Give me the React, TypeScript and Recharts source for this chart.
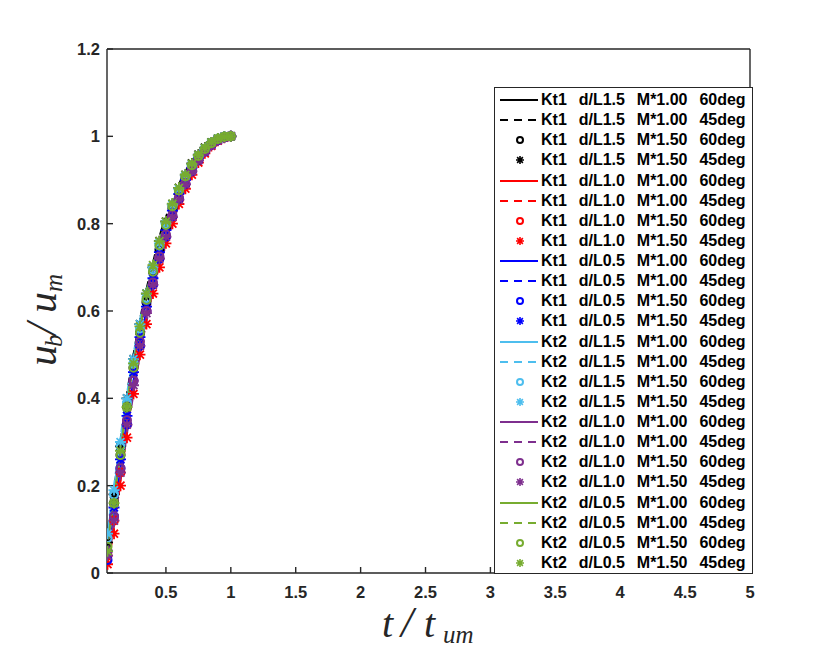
import React from 'react';
import { LineChart, Line, XAxis, YAxis, Label } from 'recharts';

// normalized time t / t_um, shared by all series
const T = [0.05, 0.1, 0.15, 0.2, 0.25, 0.3, 0.35, 0.4, 0.45, 0.5, 0.55, 0.6, 0.65, 0.7, 0.75, 0.8, 0.85, 0.9, 0.95, 1.0];

// u_b / u_m values, one array per case
const kt1_15_m100_60 = [0.06, 0.17, 0.28, 0.39, 0.48, 0.56, 0.63, 0.69, 0.75, 0.8, 0.84, 0.88, 0.91, 0.935, 0.955, 0.972, 0.985, 0.994, 0.999, 1.0];
const kt1_15_m100_45 = [0.08, 0.19, 0.3, 0.41, 0.5, 0.58, 0.65, 0.71, 0.77, 0.815, 0.855, 0.89, 0.92, 0.943, 0.962, 0.977, 0.989, 0.996, 0.999, 1.0];
const kt1_15_m150_60 = [0.05, 0.16, 0.27, 0.38, 0.47, 0.55, 0.62, 0.69, 0.74, 0.79, 0.835, 0.875, 0.905, 0.932, 0.953, 0.97, 0.984, 0.993, 0.998, 1.0];
const kt1_15_m150_45 = [0.07, 0.18, 0.29, 0.4, 0.49, 0.57, 0.64, 0.7, 0.76, 0.805, 0.845, 0.882, 0.912, 0.938, 0.958, 0.974, 0.986, 0.995, 0.999, 1.0];
const kt1_10_m100_60 = [0.03, 0.11, 0.22, 0.33, 0.43, 0.51, 0.59, 0.655, 0.715, 0.765, 0.81, 0.85, 0.885, 0.915, 0.942, 0.962, 0.978, 0.99, 0.997, 1.0];
const kt1_10_m100_45 = [0.02, 0.1, 0.21, 0.32, 0.42, 0.5, 0.58, 0.645, 0.705, 0.76, 0.805, 0.845, 0.88, 0.912, 0.94, 0.96, 0.977, 0.989, 0.997, 1.0];
const kt1_10_m150_60 = [0.04, 0.12, 0.23, 0.34, 0.44, 0.52, 0.6, 0.66, 0.72, 0.77, 0.815, 0.855, 0.89, 0.92, 0.945, 0.965, 0.98, 0.991, 0.998, 1.0];
const kt1_10_m150_45 = [0.02, 0.09, 0.2, 0.31, 0.41, 0.5, 0.57, 0.64, 0.7, 0.755, 0.8, 0.845, 0.88, 0.912, 0.94, 0.961, 0.978, 0.99, 0.997, 1.0];
const kt1_05_m100_60 = [0.04, 0.13, 0.24, 0.35, 0.44, 0.53, 0.6, 0.665, 0.725, 0.775, 0.82, 0.86, 0.893, 0.922, 0.947, 0.966, 0.981, 0.992, 0.998, 1.0];
const kt1_05_m100_45 = [0.03, 0.12, 0.23, 0.34, 0.43, 0.52, 0.595, 0.66, 0.72, 0.77, 0.815, 0.855, 0.89, 0.92, 0.945, 0.965, 0.98, 0.991, 0.998, 1.0];
const kt1_05_m150_60 = [0.03, 0.13, 0.24, 0.34, 0.44, 0.52, 0.6, 0.66, 0.72, 0.77, 0.817, 0.857, 0.891, 0.92, 0.946, 0.965, 0.98, 0.991, 0.998, 1.0];
const kt1_05_m150_45 = [0.05, 0.15, 0.26, 0.36, 0.46, 0.54, 0.61, 0.675, 0.735, 0.785, 0.83, 0.868, 0.9, 0.928, 0.95, 0.968, 0.982, 0.992, 0.998, 1.0];
const kt2_15_m100_60 = [0.09, 0.19, 0.3, 0.4, 0.49, 0.57, 0.64, 0.7, 0.755, 0.8, 0.842, 0.878, 0.91, 0.935, 0.955, 0.972, 0.985, 0.994, 0.999, 1.0];
const kt2_15_m100_45 = [0.1, 0.2, 0.31, 0.41, 0.5, 0.58, 0.645, 0.705, 0.76, 0.805, 0.846, 0.882, 0.913, 0.937, 0.957, 0.973, 0.986, 0.995, 0.999, 1.0];
const kt2_15_m150_60 = [0.08, 0.18, 0.29, 0.39, 0.48, 0.56, 0.63, 0.695, 0.75, 0.8, 0.84, 0.877, 0.908, 0.933, 0.954, 0.971, 0.984, 0.994, 0.999, 1.0];
const kt2_15_m150_45 = [0.09, 0.19, 0.3, 0.4, 0.49, 0.57, 0.64, 0.7, 0.755, 0.8, 0.843, 0.879, 0.91, 0.935, 0.956, 0.972, 0.985, 0.994, 0.999, 1.0];
const kt2_10_m100_60 = [0.04, 0.12, 0.22, 0.33, 0.42, 0.51, 0.585, 0.65, 0.71, 0.76, 0.805, 0.847, 0.882, 0.913, 0.94, 0.961, 0.978, 0.99, 0.997, 1.0];
const kt2_10_m100_45 = [0.03, 0.11, 0.21, 0.32, 0.41, 0.5, 0.575, 0.64, 0.7, 0.752, 0.8, 0.842, 0.878, 0.91, 0.938, 0.96, 0.977, 0.989, 0.997, 1.0];
const kt2_10_m150_60 = [0.05, 0.13, 0.24, 0.35, 0.44, 0.53, 0.6, 0.665, 0.725, 0.775, 0.82, 0.86, 0.893, 0.922, 0.947, 0.966, 0.981, 0.992, 0.998, 1.0];
const kt2_10_m150_45 = [0.04, 0.12, 0.23, 0.34, 0.43, 0.52, 0.595, 0.66, 0.72, 0.77, 0.815, 0.855, 0.89, 0.92, 0.945, 0.965, 0.98, 0.991, 0.998, 1.0];
const kt2_05_m100_60 = [0.06, 0.17, 0.28, 0.39, 0.48, 0.56, 0.635, 0.7, 0.755, 0.8, 0.842, 0.878, 0.91, 0.935, 0.955, 0.972, 0.985, 0.994, 0.999, 1.0];
const kt2_05_m100_45 = [0.07, 0.17, 0.28, 0.39, 0.48, 0.565, 0.64, 0.7, 0.758, 0.805, 0.845, 0.88, 0.911, 0.936, 0.956, 0.972, 0.985, 0.994, 0.999, 1.0];
const kt2_05_m150_60 = [0.06, 0.16, 0.27, 0.38, 0.47, 0.55, 0.625, 0.69, 0.75, 0.797, 0.84, 0.876, 0.908, 0.934, 0.955, 0.971, 0.984, 0.994, 0.999, 1.0];
const kt2_05_m150_45 = [0.05, 0.16, 0.28, 0.38, 0.48, 0.565, 0.64, 0.705, 0.76, 0.805, 0.846, 0.882, 0.912, 0.937, 0.957, 0.973, 0.986, 0.995, 0.999, 1.0];

const SERIES_VALUES = [
  kt1_15_m100_60, kt1_15_m100_45, kt1_15_m150_60, kt1_15_m150_45,
  kt1_10_m100_60, kt1_10_m100_45, kt1_10_m150_60, kt1_10_m150_45,
  kt1_05_m100_60, kt1_05_m100_45, kt1_05_m150_60, kt1_05_m150_45,
  kt2_15_m100_60, kt2_15_m100_45, kt2_15_m150_60, kt2_15_m150_45,
  kt2_10_m100_60, kt2_10_m100_45, kt2_10_m150_60, kt2_10_m150_45,
  kt2_05_m100_60, kt2_05_m100_45, kt2_05_m150_60, kt2_05_m150_45,
];

// legend parts: 6 groups x 4 variants
const GROUP_KT = ['Kt1', 'Kt1', 'Kt1', 'Kt2', 'Kt2', 'Kt2'];
const GROUP_DL = ['d/L1.5', 'd/L1.0', 'd/L0.5', 'd/L1.5', 'd/L1.0', 'd/L0.5'];
const GROUP_COLORS = ['#000000', '#FF0000', '#0000FF', '#4DBEEE', '#7E2F8E', '#77AC30'];
const VARIANT_M = ['M*1.00', 'M*1.00', 'M*1.50', 'M*1.50'];
const VARIANT_DEG = ['60deg', '45deg', '60deg', '45deg'];
const VARIANT_STYLE = ['solid', 'dashed', 'circle', 'star'];

const X_TICKS = [0.5, 1, 1.5, 2, 2.5, 3, 3.5, 4, 4.5, 5];
const Y_TICKS = [0, 0.2, 0.4, 0.6, 0.8, 1, 1.2];

const AXIS_COLOR = '#262626';
const TICK_STYLE = { fontSize: 16.5, fontWeight: 'bold', fill: AXIS_COLOR, fontFamily: 'Liberation Sans, Arial, sans-serif' };

type Series = { key: string; label: string; color: string; style: string };

const series: Series[] = SERIES_VALUES.map((_, i) => {
  const g = Math.floor(i / 4);
  const v = i % 4;
  return {
    key: `s${i}`,
    label: `${GROUP_KT[g]}  ${GROUP_DL[g]}  ${VARIANT_M[v]}  ${VARIANT_DEG[v]}`,
    color: GROUP_COLORS[g],
    style: VARIANT_STYLE[v],
  };
});

const data = T.map((t, j) => {
  const row: Record<string, number> = { t };
  SERIES_VALUES.forEach((vals, i) => {
    row[`s${i}`] = vals[j];
  });
  return row;
});

const starPath = (cx: number, cy: number, r: number) => {
  const d = r * 0.72;
  return `M${cx - r},${cy}H${cx + r}M${cx},${cy - r}V${cy + r}M${cx - d},${cy - d}L${cx + d},${cy + d}M${cx - d},${cy + d}L${cx + d},${cy - d}`;
};

const makeDot = (style: string, color: string) => (props: any) => {
  const { cx, cy, index } = props;
  if (cx == null || cy == null) return <g key={`d${index}`} />;
  if (style === 'circle') {
    return <circle key={`d${index}`} cx={cx} cy={cy} r={4} fill="none" stroke={color} strokeWidth={2} />;
  }
  return <path key={`d${index}`} d={starPath(cx, cy, 5.5)} stroke={color} strokeWidth={1.8} fill="none" />;
};

const XLabel = () => (
  <text fontFamily="Liberation Serif, Times New Roman, serif" fontStyle="italic" fill={AXIS_COLOR}>
    <tspan x={382} y={637} fontSize={40}>t</tspan>
    <tspan x={401} y={637} fontSize={44}>/</tspan>
    <tspan x={424} y={637} fontSize={40}>t</tspan>
    <tspan x={443} y={643} fontSize={25}>um</tspan>
  </text>
);

const YLabel = () => (
  <text
    transform="translate(56,366) rotate(-90)"
    fontFamily="Liberation Serif, Times New Roman, serif"
    fontStyle="italic"
    fill={AXIS_COLOR}
  >
    <tspan x={0} y={0} fontSize={42}>u</tspan>
    <tspan x={19} y={6} fontSize={25}>b</tspan>
    <tspan x={31} y={0} fontSize={44}>/</tspan>
    <tspan x={53} y={0} fontSize={42}>u</tspan>
    <tspan x={74} y={6} fontSize={25}>m</tspan>
  </text>
);

const LegendSample = ({ s }: { s: Series }) => (
  <svg width={44} height={20} style={{ display: 'block', flex: 'none' }}>
    {s.style === 'solid' && <line x1={5} x2={43} y1={10} y2={10} stroke={s.color} strokeWidth={2} />}
    {s.style === 'dashed' && (
      <line x1={5} x2={43} y1={10} y2={10} stroke={s.color} strokeWidth={2} strokeDasharray="8 6" />
    )}
    {s.style === 'circle' && <circle cx={25} cy={10} r={3} fill="none" stroke={s.color} strokeWidth={2} />}
    {s.style === 'star' && <path d={starPath(25, 10, 4)} stroke={s.color} strokeWidth={1.6} fill="none" />}
  </svg>
);

export default function App() {
  return (
    <div style={{ position: 'absolute', left: 0, top: 0, width: 830, height: 654, background: '#fff' }}>
      <LineChart width={830} height={654} data={data} margin={{ top: 48, right: 79, bottom: 51, left: 47 }}>
        <XAxis
          xAxisId="b"
          dataKey="t"
          type="number"
          domain={[0.046, 5]}
          ticks={X_TICKS}
          interval={0}
          allowDataOverflow
          height={30}
          tickSize={-6}
          tickMargin={19}
          tick={TICK_STYLE}
          stroke={AXIS_COLOR}
          strokeWidth={1.4}
        >
          <Label content={XLabel} />
        </XAxis>
        <XAxis
          xAxisId="top"
          orientation="top"
          type="number"
          dataKey="t"
          domain={[0.046, 5]}
          ticks={X_TICKS}
          interval={0}
          allowDataOverflow
          height={1}
          tickSize={-6}
          tick={false}
          stroke={AXIS_COLOR}
          strokeWidth={1.4}
        />
        <YAxis
          yAxisId="l"
          type="number"
          domain={[0, 1.2]}
          ticks={Y_TICKS}
          interval={0}
          allowDataOverflow
          width={60}
          tickSize={-6}
          tickMargin={13}
          tick={TICK_STYLE}
          stroke={AXIS_COLOR}
          strokeWidth={1.4}
        >
          <Label content={YLabel} />
        </YAxis>
        <YAxis
          yAxisId="r"
          orientation="right"
          type="number"
          domain={[0, 1.2]}
          ticks={Y_TICKS}
          interval={0}
          allowDataOverflow
          width={1}
          tickSize={-6}
          tick={false}
          stroke={AXIS_COLOR}
          strokeWidth={1.4}
        />
        {series.map((s) =>
          s.style === 'solid' || s.style === 'dashed' ? (
            <Line
              key={s.key}
              xAxisId="b"
              yAxisId="l"
              dataKey={s.key}
              type="monotone"
              stroke={s.color}
              strokeWidth={2}
              strokeDasharray={s.style === 'dashed' ? '8 6' : undefined}
              dot={false}
              activeDot={false}
              isAnimationActive={false}
            />
          ) : (
            <Line
              key={s.key}
              xAxisId="b"
              yAxisId="l"
              dataKey={s.key}
              type="monotone"
              stroke="none"
              dot={makeDot(s.style, s.color)}
              activeDot={false}
              isAnimationActive={false}
            />
          )
        )}
      </LineChart>
      <div
        style={{
          position: 'absolute',
          left: 494,
          top: 87,
          width: 259,
          height: 487,
          boxSizing: 'border-box',
          border: `1.5px solid ${AXIS_COLOR}`,
          background: '#fff',
          paddingTop: 2,
          fontFamily: 'Liberation Sans, Arial, sans-serif',
          fontWeight: 'bold',
          fontSize: 16,
          color: '#000',
        }}
      >
        {series.map((s) => (
          <div key={s.key} style={{ display: 'flex', alignItems: 'center', height: 20.13 }}>
            <LegendSample s={s} />
            <span style={{ whiteSpace: 'pre', marginLeft: 2, wordSpacing: 1.5, lineHeight: '20px' }}>{s.label}</span>
          </div>
        ))}
      </div>
    </div>
  );
}
